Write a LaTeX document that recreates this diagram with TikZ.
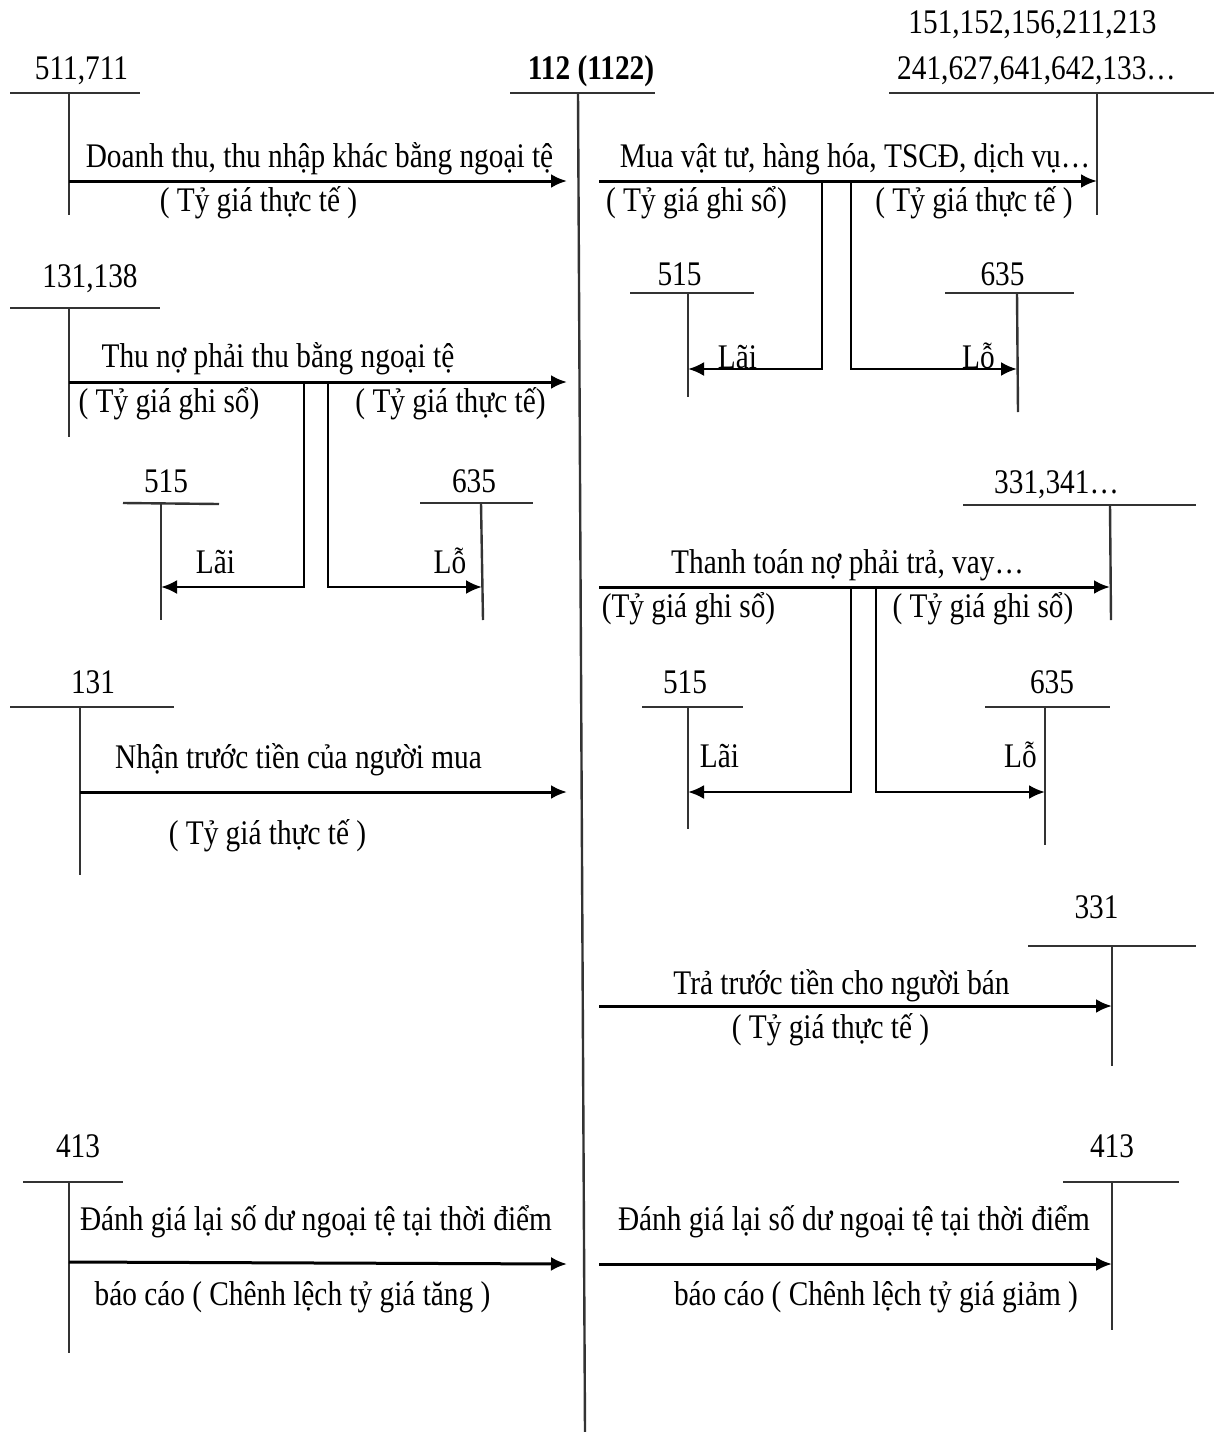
\documentclass[tikz,border=0pt]{standalone}
\usepackage{fontspec}
\setmainfont{Liberation Serif}[FakeStretch=0.85]
\usetikzlibrary{arrows.meta}
\tikzset{>={Latex[length=16pt,width=14pt]}}

\begin{document}
\begin{tikzpicture}[x=1pt,y=-1pt,
    tline/.style={line width=2.4pt,black!80},
    flow/.style={line width=3pt,->},
    txt/.style={font=\fontsize{34.5}{40}\selectfont,inner sep=0pt,anchor=base}]
    \useasboundingbox (0,0) rectangle (1219,1432);

    % tai khoan 112 (1122)
    \node[txt,font=\fontsize{34.5}{40}\selectfont\bfseries] (n112) at (591,79) {112 (1122)};
    \draw[tline] (510,93) -- (655,93);
    \draw[tline] (578,93) coordinate (top112) -- (585,1432) coordinate (bot112);

    % 511,711
    \node[txt] (n511) at (81.5,79) {511,711};
    \draw[tline] (10,93) -- (140,93);
    \draw[tline] (69,93) -- (69,215);
    \coordinate (a1) at (69,181);
    \coordinate (b1) at (567,181);
    \draw[flow] (a1) -- (b1);
    \node[txt] (t1) at (319.5,167) {Doanh thu, thu nhập khác bằng ngoại tệ};
    \node[txt] (r1) at (258.5,211) {( Tỷ giá thực tế )};

    % 151,152,...
    \node[txt] (n151) at (1032.5,33) {151,152,156,211,213};
    \node[txt] (n241) at (1036.5,79) {241,627,641,642,133…};
    \draw[tline] (889,93) -- (1214,93);
    \draw[tline] (1097,93) -- (1097,215);
    \coordinate (a2) at (599,181);
    \coordinate (b2) at (1097,181);
    \draw[flow] (a2) -- (b2);
    \node[txt] (t2) at (855,167) {Mua vật tư, hàng hóa, TSCĐ, dịch vụ…};
    \node[txt] (r2a) at (696.5,211) {( Tỷ giá ghi sổ)};
    \node[txt] (r2b) at (974,211) {( Tỷ giá thực tế )};
    % 515, 635 ben phai (1)
    \node[txt] (n515a) at (679.5,285) {515};
    \draw[tline] (630,293) -- (754,293);
    \draw[tline] (688,293) -- (688,397);
    \node[txt] (n635a) at (1002.5,285) {635};
    \draw[tline] (945,293) -- (1074,293);
    \draw[tline] (1017,293) -- (1018,412);
    \coordinate (g2a) at (822,181);
    \coordinate (l2a) at (688,369);
    \coordinate (g2b) at (851,181);
    \coordinate (l2b) at (1017,369);
    \draw[flow,line width=2.6pt] (g2a) |- (l2a);
    \draw[flow,line width=2.6pt] (g2b) |- (l2b);
    \node[txt] (lai2) at (737.5,368) {Lãi};
    \node[txt] (lo2) at (978.5,368) {Lỗ};

    % 131,138
    \node[txt] (n131a) at (90,287) {131,138};
    \draw[tline] (10,308) -- (160,308);
    \draw[tline] (69,308) -- (69,437);
    \coordinate (a3) at (69,382);
    \coordinate (b3) at (567,382);
    \draw[flow] (a3) -- (b3);
    \node[txt] (t3) at (278,367) {Thu nợ phải thu bằng ngoại tệ};
    \node[txt] (r3a) at (169,412) {( Tỷ giá ghi sổ)};
    \node[txt] (r3b) at (450.5,412) {( Tỷ giá thực tế)};
    % 515, 635 ben trai
    \node[txt] (n515b) at (166,492) {515};
    \draw[tline] (123,503) -- (219,504);
    \draw[tline] (161,503) -- (161,620);
    \node[txt] (n635b) at (474,492) {635};
    \draw[tline] (420,503) -- (533,503);
    \draw[tline] (481,503) -- (483,620);
    \coordinate (g3a) at (304,382);
    \coordinate (l3a) at (161,587);
    \coordinate (g3b) at (328,382);
    \coordinate (l3b) at (482,587);
    \draw[flow,line width=2.6pt] (g3a) |- (l3a);
    \draw[flow,line width=2.6pt] (g3b) |- (l3b);
    \node[txt] (lai3) at (215.5,573) {Lãi};
    \node[txt] (lo3) at (450,573) {Lỗ};

    % 331,341...
    \node[txt] (n331a) at (1056.5,493) {331,341…};
    \draw[tline] (963,505) -- (1196,505);
    \draw[tline] (1110,505) -- (1111,620);
    \coordinate (a4) at (599,587);
    \coordinate (b4) at (1110,587);
    \draw[flow] (a4) -- (b4);
    \node[txt] (t4) at (847.5,573) {Thanh toán nợ phải trả, vay…};
    \node[txt] (r4a) at (688.5,617) {(Tỷ giá ghi sổ)};
    \node[txt] (r4b) at (983,617) {( Tỷ giá ghi sổ)};
    % 515, 635 ben phai (2)
    \node[txt] (n515c) at (685,693) {515};
    \draw[tline] (642,707) -- (743,707);
    \draw[tline] (688,707) -- (688,829);
    \node[txt] (n635c) at (1052,693) {635};
    \draw[tline] (985,707) -- (1110,707);
    \draw[tline] (1045,707) -- (1045,845);
    \coordinate (g4a) at (851,587);
    \coordinate (l4a) at (688,792);
    \coordinate (g4b) at (876,587);
    \coordinate (l4b) at (1045,792);
    \draw[flow,line width=2.6pt] (g4a) |- (l4a);
    \draw[flow,line width=2.6pt] (g4b) |- (l4b);
    \node[txt] (lai4) at (719.5,767) {Lãi};
    \node[txt] (lo4) at (1020.5,767) {Lỗ};

    % 131
    \node[txt] (n131b) at (93,693) {131};
    \draw[tline] (10,707) -- (174,707);
    \draw[tline] (80,707) -- (80,875);
    \coordinate (a5) at (80,792);
    \coordinate (b5) at (567,792);
    \draw[flow] (a5) -- (b5);
    \node[txt] (t5) at (298.5,768) {Nhận trước tiền của người mua};
    \node[txt] (r5) at (267.5,844) {( Tỷ giá thực tế )};

    % 331
    \node[txt] (n331b) at (1096.5,918) {331};
    \draw[tline] (1028,946) -- (1196,946);
    \draw[tline] (1112,946) -- (1112,1066);
    \coordinate (a6) at (599,1006);
    \coordinate (b6) at (1112,1006);
    \draw[flow] (a6) -- (b6);
    \node[txt] (t6) at (841.5,994) {Trả trước tiền cho người bán};
    \node[txt] (r6) at (830.5,1038) {( Tỷ giá thực tế )};

    % 413 ben trai
    \node[txt] (n413a) at (78,1157) {413};
    \draw[tline] (23,1182) -- (123,1182);
    \draw[tline] (69,1182) -- (69,1353);
    \coordinate (a7) at (69,1262);
    \coordinate (b7) at (567,1264);
    \draw[flow] (a7) -- (b7);
    \node[txt] (t7) at (316,1230) {Đánh giá lại số dư ngoại tệ tại thời điểm};
    \node[txt] (r7) at (292.5,1305) {báo cáo ( Chênh lệch tỷ giá tăng )};

    % 413 ben phai
    \node[txt] (n413b) at (1112,1157) {413};
    \draw[tline] (1063,1182) -- (1179,1182);
    \draw[tline] (1112,1182) -- (1112,1330);
    \coordinate (a8) at (599,1264);
    \coordinate (b8) at (1112,1264);
    \draw[flow] (a8) -- (b8);
    \node[txt] (t8) at (854,1230) {Đánh giá lại số dư ngoại tệ tại thời điểm};
    \node[txt] (r8) at (876,1305) {báo cáo ( Chênh lệch tỷ giá giảm )};
\end{tikzpicture}
\end{document}
